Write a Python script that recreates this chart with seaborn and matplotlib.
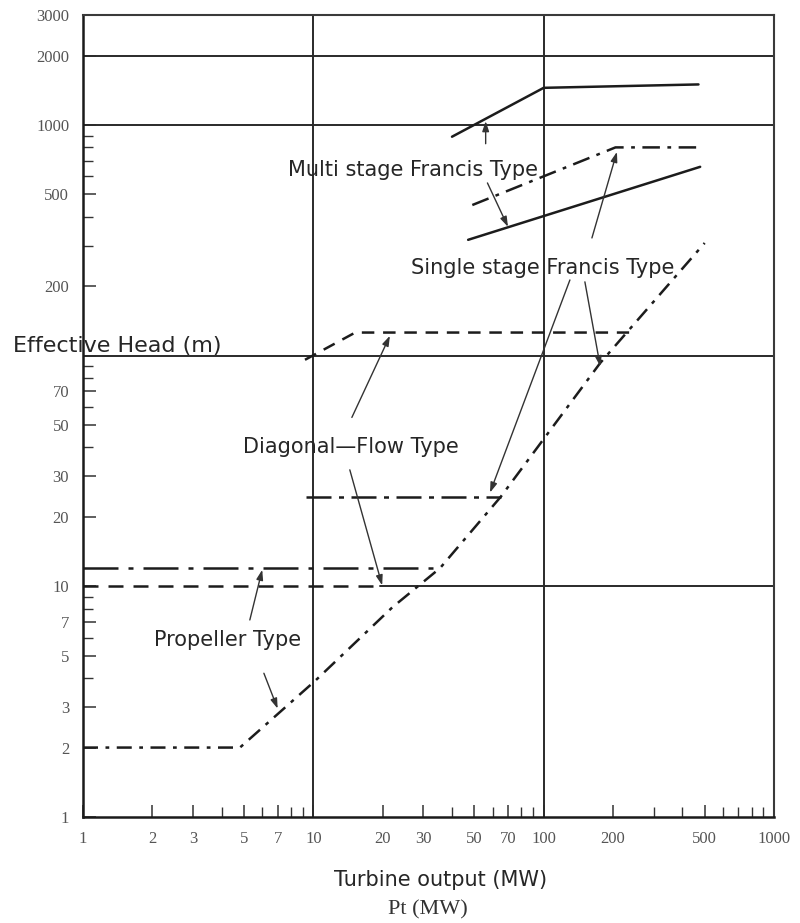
import numpy as np
import pandas as pd
import matplotlib
matplotlib.use("Agg")
import matplotlib.pyplot as plt
import seaborn as sns
from matplotlib.ticker import FixedLocator, FixedFormatter, LogLocator, NullFormatter

# boundary curves: turbine output (MW) vs effective head (m)
multi_upper_x = [40, 100, 470]
multi_upper_y = [890, 1450, 1500]
multi_lower_x = [47, 478]
multi_lower_y = [318, 659]
single_upper_x = [49, 205, 490]
single_upper_y = [450, 800, 800]
lower_env_x = [1, 4.8, 10.2, 22, 35.5, 65, 176, 500]
lower_env_y = [2, 2, 3.9, 8.1, 12, 24.4, 93, 308]
propeller_upper_x = [1, 35.5]
propeller_upper_y = [12, 12]
head10_x = [1, 19.5]
head10_y = [10, 10]
diagonal_upper_x = [9.2, 15.2, 235]
diagonal_upper_y = [96, 126, 126]
francis_lower_x = [9.3, 65]
francis_lower_y = [24.4, 24.4]

x_ticks = [1, 2, 3, 5, 7, 10, 20, 30, 50, 70, 100, 200, 500, 1000]
x_tick_labels = ["1", "2", "3", "5", "7", "10", "20", "30", "50", "70", "100", "200", "500", "1000"]
y_ticks = [1, 2, 3, 5, 7, 10, 20, 30, 50, 70, 100, 200, 500, 1000, 2000, 3000]
y_tick_labels = ["1", "2", "3", "5", "7", "10", "20", "30", "50", "70", "", "200", "500", "1000", "2000", "3000"]

grid_y = [2000, 1000, 100]
grid_x = [10, 100]

curves = {
    "multi_upper": (multi_upper_x, multi_upper_y, ""),
    "multi_lower": (multi_lower_x, multi_lower_y, ""),
    "single_upper": (single_upper_x, single_upper_y, (7, 3, 1.5, 3)),
    "lower_env": (lower_env_x, lower_env_y, (6, 3, 1.5, 3)),
    "propeller_upper": (propeller_upper_x, propeller_upper_y, (14, 4, 2, 4)),
    "head10": (head10_x, head10_y, (6, 4)),
    "diagonal_upper": (diagonal_upper_x, diagonal_upper_y, (5, 3.5)),
    "francis_lower": (francis_lower_x, francis_lower_y, (10, 3, 2, 3)),
}
df = pd.concat([pd.DataFrame({"x": v[0], "y": v[1], "curve": k}) for k, v in curves.items()],
               ignore_index=True)
dashes = {k: v[2] for k, v in curves.items()}

# labels (text, x, y) and arrows (tail x, tail y, head x, head y) in data units
labels = [
    ("Multi stage Francis Type", 27.1, 640),
    ("Single stage Francis Type", 99, 240),
    ("Diagonal\u2014Flow Type", 14.6, 40),
    ("Propeller Type", 4.26, 5.86),
]
arrows = [
    (56, 830, 56, 1040),
    (57, 561, 70, 362),
    (162, 324, 208, 765),
    (130, 213, 58.5, 25.5),
    (151, 209, 176, 90),
    (14.7, 54, 21.5, 122),
    (14.4, 32, 19.9, 10.1),
    (5.3, 7.15, 6.0, 11.8),
    (6.1, 4.2, 7.0, 2.95),
]

sns.set_style("ticks")
plt.rcParams["font.family"] = ["DejaVu Sans"]

fig = plt.figure(figsize=(8, 9.23), dpi=100)
ax = fig.add_axes([83 / 800, 1 - 817 / 923, (774 - 83) / 800, (817 - 15) / 923])
ax.set_xscale("log")
ax.set_yscale("log")

line_color = "#1c1c1c"
sns.lineplot(data=df, x="x", y="y", style="curve", dashes=dashes, sort=False,
             estimator=None, color=line_color, linewidth=1.8, legend=False, ax=ax)

for gy in grid_y:
    ax.axhline(gy, color="#2a2a2a", lw=1.4, zorder=1)
ax.axhline(10, xmin=np.log10(head10_x[-1]) / 3, color="#2a2a2a", lw=1.4, zorder=1)
for gx in grid_x:
    ax.axvline(gx, color="#2a2a2a", lw=1.4, zorder=1)

ax.set_xlim(1, 1000)
ax.set_ylim(1, 3000)

ax.xaxis.set_major_locator(FixedLocator(x_ticks))
ax.xaxis.set_major_formatter(FixedFormatter(x_tick_labels))
ax.yaxis.set_major_locator(FixedLocator(y_ticks))
ax.yaxis.set_major_formatter(FixedFormatter(y_tick_labels))
ax.xaxis.set_minor_locator(LogLocator(base=10, subs=np.arange(2, 10)))
ax.yaxis.set_minor_locator(LogLocator(base=10, subs=np.arange(2, 10)))
ax.xaxis.set_minor_formatter(NullFormatter())
ax.yaxis.set_minor_formatter(NullFormatter())
ax.tick_params(which="both", direction="in", top=False, right=False, color="#333333")
ax.tick_params(which="major", length=9, width=1.1, pad=10)
ax.tick_params(which="minor", length=7, width=1.0)
for lbl in ax.get_xticklabels() + ax.get_yticklabels():
    lbl.set_fontfamily(["Liberation Serif"])
    lbl.set_fontsize(12)
    lbl.set_color("#555555")

for side in ["left", "bottom"]:
    ax.spines[side].set_linewidth(1.8)
    ax.spines[side].set_color("#1a1a1a")
for side in ["top", "right"]:
    ax.spines[side].set_linewidth(1.5)
    ax.spines[side].set_color("#3a3a3a")

ax.set_xlabel("")
ax.set_ylabel("")

for txt, tx, ty in labels:
    ax.text(tx, ty, txt, ha="center", va="center", fontsize=15, color="#262626", zorder=5)
for x0, y0, x1, y1 in arrows:
    ax.annotate("", xy=(x1, y1), xytext=(x0, y0),
                arrowprops=dict(arrowstyle="-|>,head_length=0.6,head_width=0.2",
                                color="#333333", lw=1.0, shrinkA=0, shrinkB=0))

fig.text(13 / 800, 1 - 346 / 923, "Effective Head (m)", ha="left", va="center",
         fontsize=16, color="#262626")
fig.text(441 / 800, 1 - 880 / 923, "Turbine output (MW)", ha="center", va="center",
         fontsize=15, color="#262626")
fig.text(428 / 800, 1 - 910 / 923, "Pt (MW)", ha="center", va="center",
         fontsize=16, color="#333333", family=["Liberation Serif"])

fig.savefig("out.png", dpi=100)
